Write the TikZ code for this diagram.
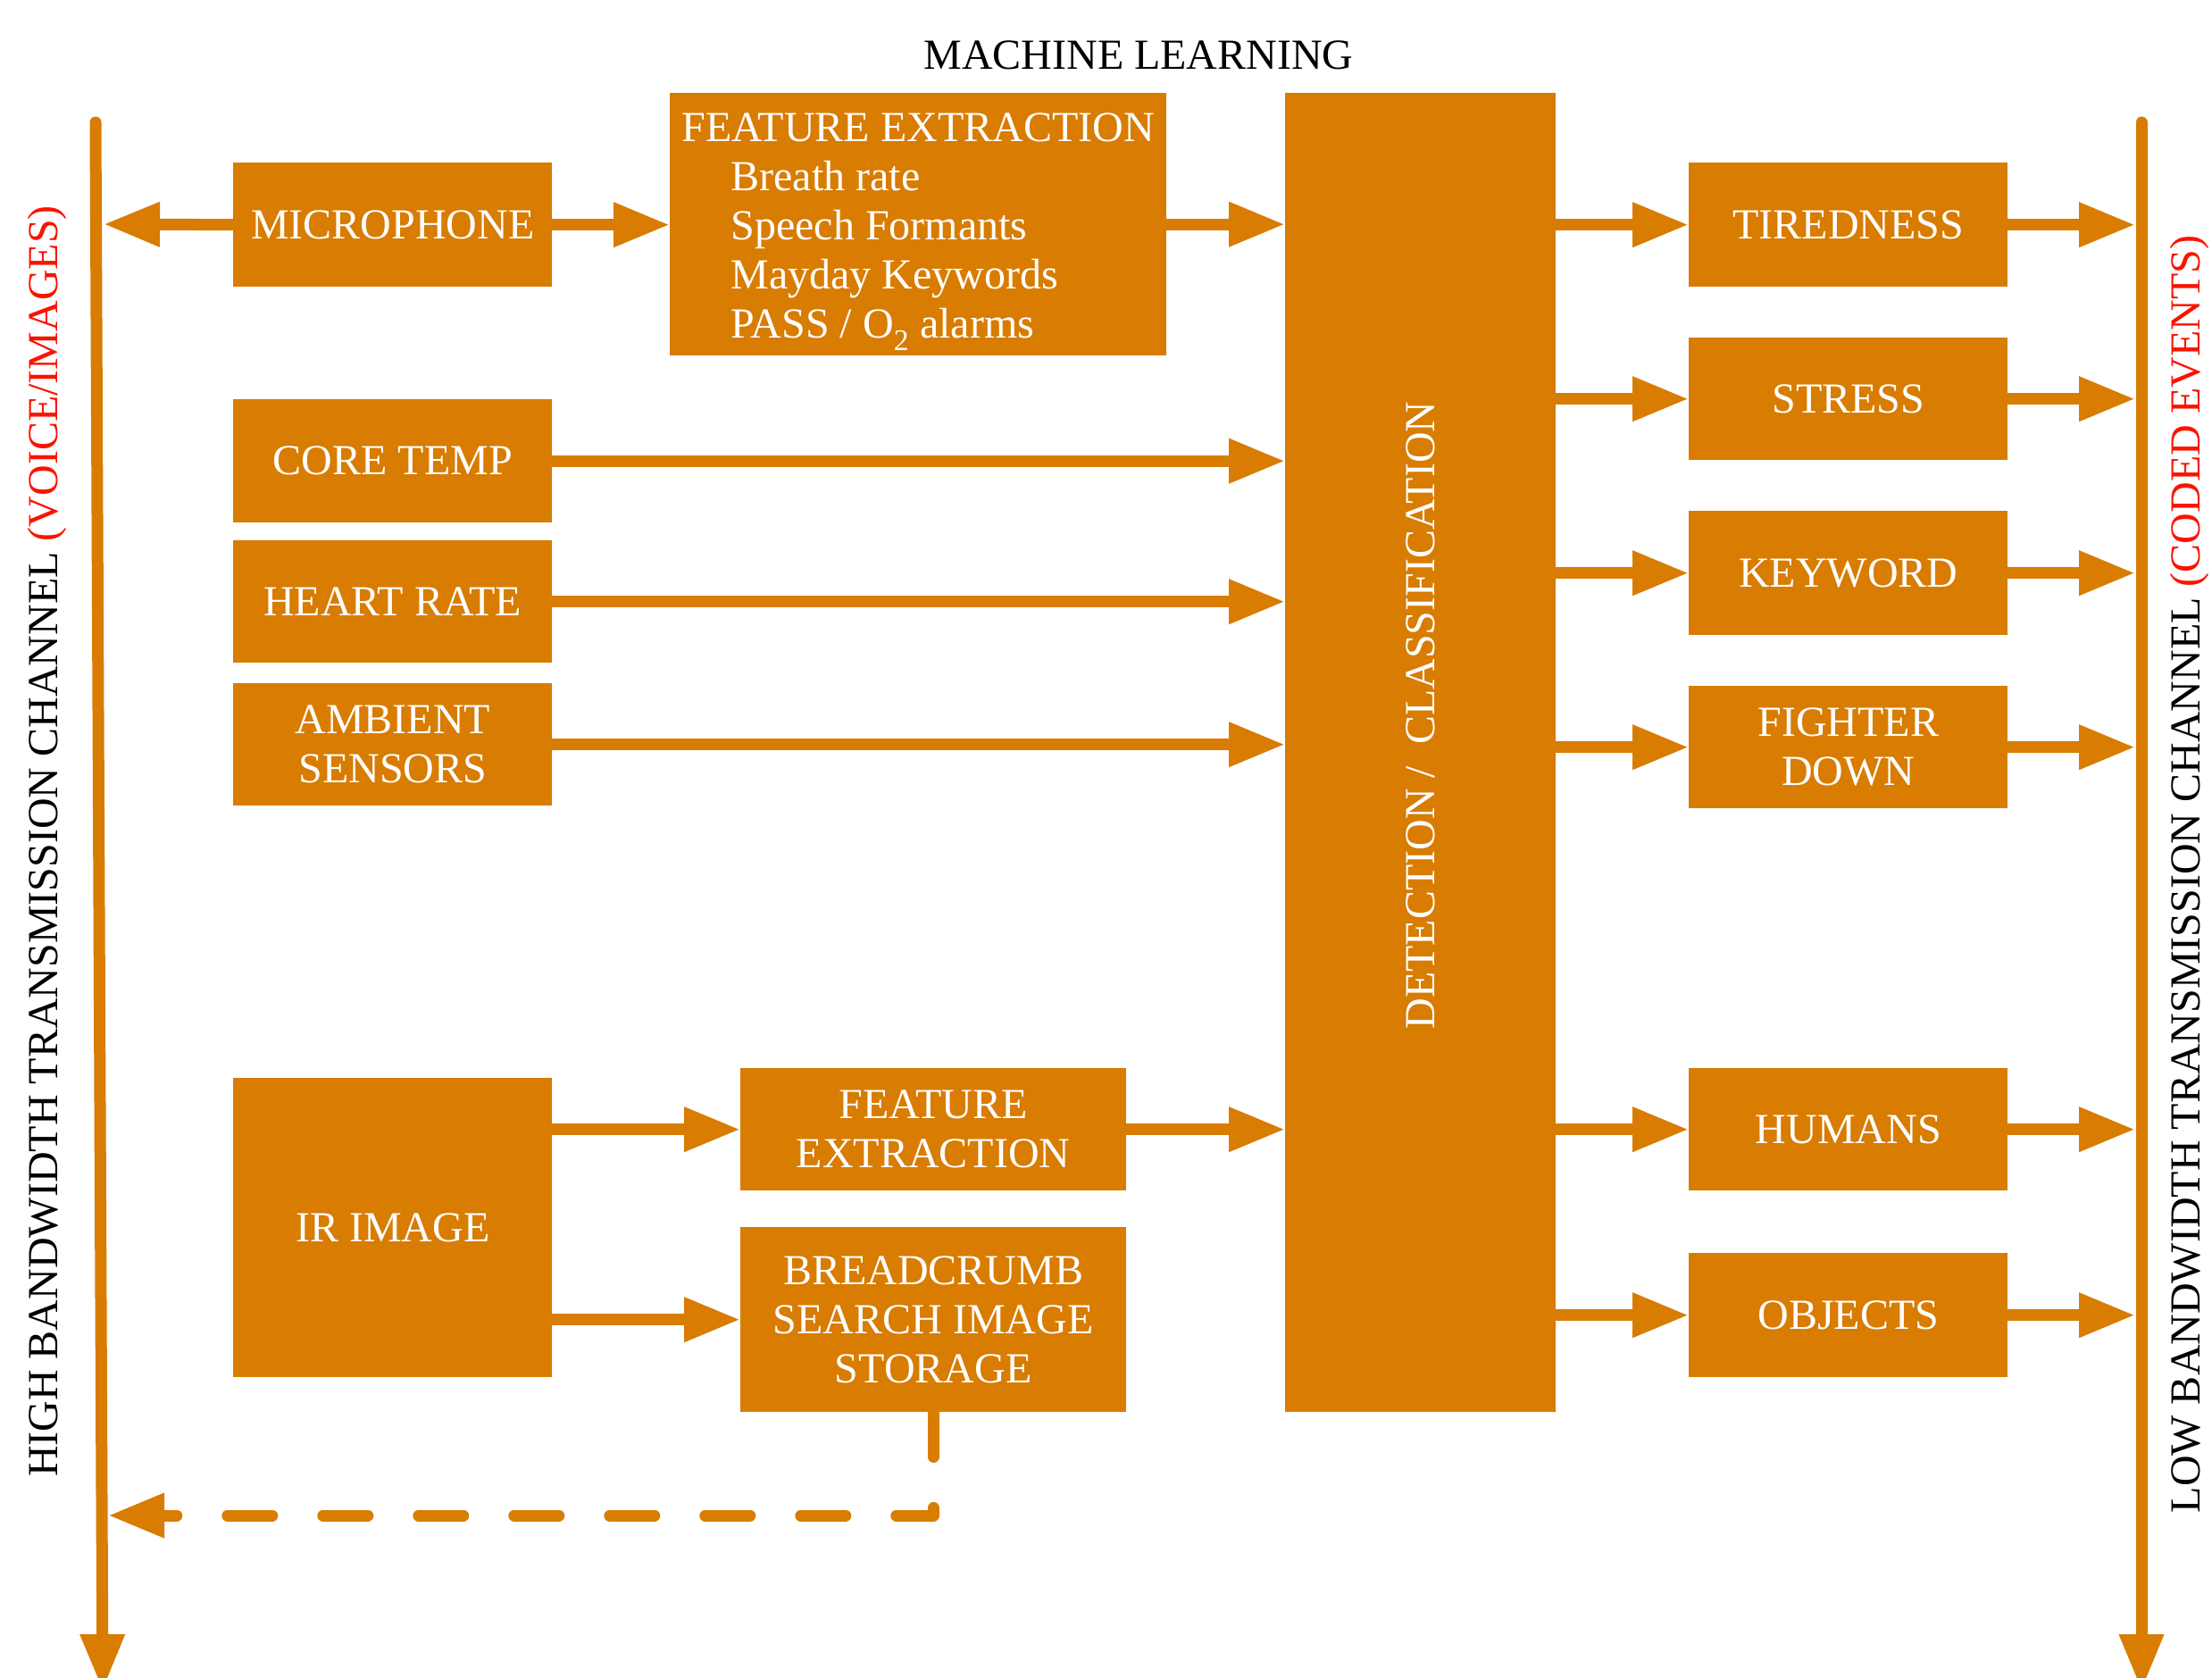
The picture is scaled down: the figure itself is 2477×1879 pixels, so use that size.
\documentclass[tikz,border=0pt]{standalone}
\usepackage{fontspec}
\setmainfont{Liberation Serif}
\usetikzlibrary{arrows.meta,calc}
\definecolor{org}{RGB}{216,124,2}
\definecolor{redtxt}{RGB}{250,20,0}
\begin{document}
\begin{tikzpicture}[x=1pt,y=-1pt,
  box/.style={fill=org, draw=none, text=white, font=\fontsize{48}{55}\selectfont,
    align=center, inner sep=0pt, anchor=north west},
  lbl/.style={font=\fontsize{48}{55}\selectfont, inner sep=0pt},
  conn/.style={draw=org, line width=13pt, -{Triangle[length=63pt,width=47pt]}},
  chan/.style={draw=org, line width=13pt, line cap=round, -{Triangle[length=63pt,width=47pt]}},
  dconn/.style={draw=org, line width=13pt, line cap=round, line join=round,
    dash pattern=on 50pt off 57pt, -{Triangle[length=63pt,width=47pt]}}]
\useasboundingbox (0,0) rectangle (2477,1879);
\clip (0,0) rectangle (2477,1879);

% title
\node[lbl] (ml) at (1275,62) {MACHINE LEARNING};

% channels
\coordinate (lltop) at (107,137);
\coordinate (llbot) at (115,1893);
\coordinate (rltop) at (2398,137);
\coordinate (rlbot) at (2398,1893);
\draw[chan] (lltop) -- (llbot);
\draw[chan] (rltop) -- (rlbot);
\coordinate (rin) at (2391,0);
\coordinate (micTip) at (116,251);
\coordinate (bcTip) at (121,1697);

\node[lbl, rotate=90] (hbl) at (53,942) {HIGH BANDWIDTH TRANSMISSION CHANNEL \textcolor{redtxt}{(VOICE/IMAGES)}};
\node[lbl, rotate=90] (lbl) at (2452,979) {LOW BANDWIDTH TRANSMISSION CHANNEL \textcolor{redtxt}{(CODED EVENTS)}};

% left boxes
\node[box, minimum width=357pt, minimum height=139pt] (mic) at (261,182) {MICROPHONE};
\node[box, minimum width=357pt, minimum height=138pt] (ct) at (261,447) {CORE TEMP};
\node[box, minimum width=357pt, minimum height=137pt] (hr) at (261,605) {HEART RATE};
\node[box, minimum width=357pt, minimum height=137pt] (amb) at (261,765) {AMBIENT\\SENSORS};
\node[box, minimum width=357pt, minimum height=335pt] (ir) at (261,1207) {IR IMAGE};

% feature extraction (voice)
\node[box, minimum width=556pt, minimum height=294pt, align=left] (fe1) at (750,104)
  {\rule{0pt}{49pt}FEATURE EXTRACTION\\
   \hspace*{55pt}Breath rate\\
   \hspace*{55pt}Speech Formants\\
   \hspace*{55pt}Mayday Keywords\\
   \hspace*{55pt}PASS / O\textsubscript{2} alarms};

\node[box, minimum width=432pt, minimum height=137pt] (fe2) at (829,1196) {FEATURE\\EXTRACTION};
\node[box, minimum width=432pt, minimum height=207pt] (bc) at (829,1374) {BREADCRUMB\\SEARCH IMAGE\\STORAGE};

% detection
\node[box, minimum width=303pt, minimum height=1477pt] (det) at (1439,104) {};
\node[lbl, rotate=90, text=white] (dett) at (1591,801) {DETECTION /\hspace{12pt} CLASSIFICATION};

% right boxes
\node[box, minimum width=357pt, minimum height=139pt] (tir) at (1891,182) {TIREDNESS};
\node[box, minimum width=357pt, minimum height=137pt] (str) at (1891,378) {STRESS};
\node[box, minimum width=357pt, minimum height=139pt] (kw) at (1891,572) {KEYWORD};
\node[box, minimum width=357pt, minimum height=137pt] (fd) at (1891,768) {FIGHTER\\DOWN};
\node[box, minimum width=357pt, minimum height=137pt] (hum) at (1891,1196) {HUMANS};
\node[box, minimum width=357pt, minimum height=139pt] (obj) at (1891,1403) {OBJECTS};

% connectors left side
\draw[conn] (mic.west) -- (micTip);
\draw[conn] (mic.east) -- (fe1.west |- mic.east);
\draw[conn] (fe1.east) -- (fe1.east -| det.west);
\draw[conn] (ct.east) -- (ct.east -| det.west);
\draw[conn] (hr.east) -- (hr.east -| det.west);
\draw[conn] (amb.east) -- (amb.east -| det.west);
\draw[conn] (ir.east |- fe2.west) -- (fe2.west);
\draw[conn] (ir.east |- bc.west) -- (bc.west);
\draw[conn] (fe2.east) -- (fe2.east -| det.west);
\draw[dconn] (bc.south) -- (bc.south |- bcTip) -- (bcTip);

% connectors right side
\foreach \b in {tir,str,kw,fd,hum,obj}{
  \draw[conn] (det.east |- \b.west) -- (\b.west);
  \draw[conn] (\b.east) -- (\b.east -| rin);
}
\end{tikzpicture}
\end{document}
